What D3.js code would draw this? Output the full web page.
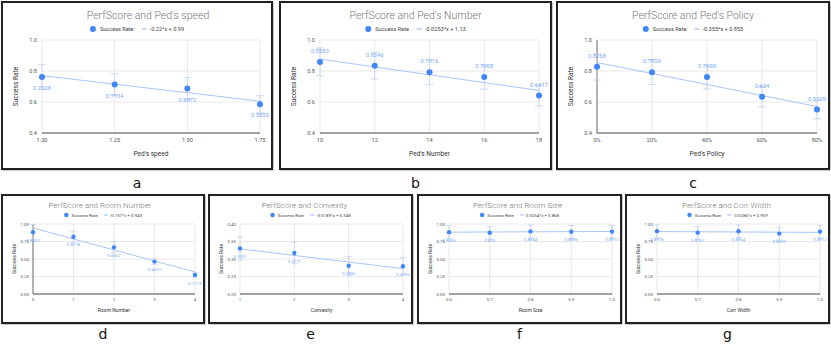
<!DOCTYPE html>
<html>
<head>
<meta charset="utf-8">
<script src="https://cdn.jsdelivr.net/npm/d3@7"></script>
<style>
  body { margin: 0; background: #fff; }
  svg { display: block; }
</style>
</head>
<body>
<div id="wrapper"></div>
<script>
// ---- data ----
const speedX = [1.00, 1.25, 1.50, 1.75];
const speedTicks = ["1.00", "1.25", "1.50", "1.75"];
const speedRate = [0.7608, 0.7124, 0.6872, 0.5855];
const speedErr = [0.08, 0.07, 0.07, 0.055];

const pedNumX = [10, 12, 14, 16, 18];
const pedNumTicks = ["10", "12", "14", "16", "18"];
const pedNumRate = [0.8583, 0.8346, 0.7916, 0.7608, 0.6417];
const pedNumErr = [0.09, 0.087, 0.08, 0.078, 0.067];

const policyX = [0, 0.2, 0.4, 0.6, 0.8];
const policyTicks = ["0%", "20%", "40%", "60%", "80%"];
const policyRate = [0.8268, 0.7926, 0.7608, 0.634, 0.5509];
const policyErr = [0.085, 0.08, 0.077, 0.066, 0.06];

const roomNumX = [0, 1, 2, 3, 4];
const roomNumTicks = ["0", "1", "2", "3", "4"];
const roomNumRate = [0.8812, 0.8178, 0.6667, 0.4631, 0.2719];
const roomNumErr = [0.11, 0.08, 0.08, 0.04, 0.03];

const convexX = [1, 2, 3, 4];
const convexTicks = ["1", "2", "3", "4"];
const convexRate = [0.3301, 0.3171, 0.2806, 0.2792];
const convexErr = [0.033, 0.031, 0.027, 0.025];

const sizeX = [0.6, 0.7, 0.8, 0.9, 1.0];
const sizeTicks = ["0.6", "0.7", "0.8", "0.9", "1.0"];
const roomSizeRate = [0.8836, 0.876, 0.8944, 0.8896, 0.8912];
const roomSizeErr = [0.09, 0.09, 0.09, 0.09, 0.09];

const corrWidthRate = [0.8976, 0.8767, 0.8964, 0.8629, 0.8912];
const corrWidthErr = [0.09, 0.09, 0.09, 0.09, 0.09];

// trendlines: [slope, intercept, legend text]
const speedTrend = [-0.22, 0.99, "-0.22*x + 0.99"];
const pedNumTrend = [-0.0253, 1.13, "-0.0253*x + 1.13"];
const policyTrend = [-0.355, 0.855, "-0.355*x + 0.855"];
const roomNumTrend = [-0.157, 0.943, "-0.157*x + 0.943"];
const convexTrend = [-0.0189, 0.348, "-0.0189*x + 0.348"];
const roomSizeTrend = [0.0254, 0.868, "0.0254*x + 0.868"];
const corrWidthTrend = [-0.0286, 0.909, "-0.0286*x + 0.909"];

const topYTicks = [0.4, 0.6, 0.8, 1.0];
const unitYTicks = [0, 0.25, 0.5, 0.75, 1.0];
const convexYTicks = [0.2, 0.25, 0.3, 0.35, 0.4];

const panels = [
  { letter: "a", title: "PerfScore and Ped's speed", xTitle: "Ped's speed", x: speedX, xTicks: speedTicks,
    y: speedRate, err: speedErr, trend: speedTrend, yTicks: topYTicks, yFmt: ".1f", labelPos: "below",
    box: [2, 2, 272, 169], small: false, titleDx: 11, xBase: false },
  { letter: "b", title: "PerfScore and Ped's Number", xTitle: "Ped's Number", x: pedNumX, xTicks: pedNumTicks,
    y: pedNumRate, err: pedNumErr, trend: pedNumTrend, yTicks: topYTicks, yFmt: ".1f", labelPos: "above",
    box: [280, 2, 551, 169], small: false, titleDx: 0, xBase: false },
  { letter: "c", title: "PerfScore and Ped's Policy", xTitle: "Ped's Policy", x: policyX, xTicks: policyTicks,
    y: policyRate, err: policyErr, trend: policyTrend, yTicks: topYTicks, yFmt: ".1f", labelPos: "above",
    box: [557, 2, 829, 169], small: false, titleDx: 0, xBase: true },
  { letter: "d", title: "PerfScore and Room Number", xTitle: "Room Number", x: roomNumX, xTicks: roomNumTicks,
    y: roomNumRate, err: roomNumErr, trend: roomNumTrend, yTicks: unitYTicks, yFmt: ".2f", labelPos: "below",
    box: [2, 195, 204, 323], small: true, titleDx: -3, xBase: true },
  { letter: "e", title: "PerfScore and Convexity", xTitle: "Convexity", x: convexX, xTicks: convexTicks,
    y: convexRate, err: convexErr, trend: convexTrend, yTicks: convexYTicks, yFmt: ".2f", labelPos: "below",
    box: [209, 195, 412, 323], small: true, titleDx: -6, xBase: false },
  { letter: "f", title: "PerfScore and Room Size", xTitle: "Room Size", x: sizeX, xTicks: sizeTicks,
    y: roomSizeRate, err: roomSizeErr, trend: roomSizeTrend, yTicks: unitYTicks, yFmt: ".2f", labelPos: "below",
    box: [418, 195, 621, 323], small: true, titleDx: -2, xBase: false },
  { letter: "g", title: "PerfScore and Corr Width", xTitle: "Corr Width", x: sizeX, xTicks: sizeTicks,
    y: corrWidthRate, err: corrWidthErr, trend: corrWidthTrend, yTicks: unitYTicks, yFmt: ".2f", labelPos: "below",
    box: [626, 195, 829, 323], small: true, titleDx: -1, xBase: false },
];

const blue = "#4285f4";
const trendColor = "#a9c5f7";
const labelColor = "#7baaf7";
const errColor = "#c3d3ef";
const font = "Roboto, 'Open Sans', sans-serif";

const svg = d3.select("#wrapper").append("svg")
  .attr("width", 831)
  .attr("height", 344);

function drawPanel(p) {
  const [x0, y0, x1, y1] = p.box;
  const s = p.small;
  const m = s ? { top: 29, right: 9, bottom: 29, left: 31 } : { top: 38, right: 12, bottom: 36, left: 40 };
  const fs = s
    ? { title: 8, legend: 4.4, tick: 4.4, axis: 5, label: 4.4, r: 2.2, cap: 3, off: 8 }
    : { title: 10.5, legend: 5.6, tick: 5.6, axis: 6.6, label: 5.8, r: 3, cap: 4, off: 11 };

  const g = svg.append("g");

  // frame
  g.append("rect")
    .attr("x", x0 + 1).attr("y", y0 + 1)
    .attr("width", x1 - x0).attr("height", y1 - y0)
    .attr("fill", "none").attr("stroke", "#bbb").attr("stroke-width", 1.5);
  g.append("rect")
    .attr("x", x0).attr("y", y0)
    .attr("width", x1 - x0).attr("height", y1 - y0)
    .attr("fill", "#fff").attr("stroke", "#222").attr("stroke-width", 2);

  const left = x0 + m.left, right = x1 - m.right;
  const top = y0 + m.top, bottom = y1 - m.bottom;

  const xScale = d3.scaleLinear()
    .domain(d3.extent(p.x))
    .range([left, right]);
  const yScale = d3.scaleLinear()
    .domain(d3.extent(p.yTicks))
    .range([bottom, top]);

  // gridlines
  g.append("g").selectAll("line.h")
    .data(p.yTicks.slice(1))
    .join("line")
    .attr("x1", left).attr("x2", right)
    .attr("y1", d => yScale(d)).attr("y2", d => yScale(d))
    .attr("stroke", "#e3e3e3").attr("stroke-width", 0.8);
  g.append("g").selectAll("line.v")
    .data(p.x)
    .join("line")
    .attr("x1", d => xScale(d)).attr("x2", d => xScale(d))
    .attr("y1", top).attr("y2", bottom)
    .attr("stroke", (d, i) => (i === 0 && p.xBase) ? "#666" : "#e3e3e3")
    .attr("stroke-width", (d, i) => (i === 0 && p.xBase) ? 1 : 0.8);
  // baseline
  g.append("line")
    .attr("x1", left).attr("x2", right)
    .attr("y1", bottom).attr("y2", bottom)
    .attr("stroke", "#444").attr("stroke-width", 1);

  // y tick labels
  const yf = d3.format(p.yFmt);
  g.append("g").selectAll("text")
    .data(p.yTicks)
    .join("text")
    .attr("x", left - (s ? 4 : 5))
    .attr("y", d => yScale(d))
    .attr("dy", "0.35em")
    .attr("text-anchor", "end")
    .style("font-family", font).style("font-size", fs.tick + "px")
    .attr("fill", "#555")
    .text(yf);

  // x tick labels
  g.append("g").selectAll("text")
    .data(p.x)
    .join("text")
    .attr("x", d => xScale(d))
    .attr("y", bottom + (s ? 6.5 : 9))
    .attr("text-anchor", "middle")
    .style("font-family", font).style("font-size", fs.tick + "px")
    .attr("fill", "#555")
    .text((d, i) => p.xTicks[i]);

  // axis titles
  g.append("text")
    .attr("x", (left + right) / 2)
    .attr("y", s ? y1 - 11 : y1 - 13)
    .attr("text-anchor", "middle")
    .style("font-family", font).style("font-size", fs.axis + "px")
    .attr("fill", "#333")
    .text(p.xTitle);
  g.append("text")
    .attr("transform", `translate(${x0 + (s ? 12 : 14)}, ${(top + bottom) / 2}) rotate(-90)`)
    .attr("text-anchor", "middle")
    .attr("dy", "0.35em")
    .style("font-family", font).style("font-size", fs.axis + "px")
    .attr("fill", "#333")
    .text("Success Rate");

  // title
  g.append("text")
    .attr("x", (x0 + x1) / 2 + p.titleDx)
    .attr("y", y0 + (s ? 13 : 17))
    .attr("text-anchor", "middle")
    .style("font-family", font).style("font-size", fs.title + "px")
    .style("font-weight", 300)
    .attr("fill", "#777")
    .text(p.title);

  // legend
  const lg = g.append("g");
  const ly = y0 + (s ? 20 : 27);
  lg.append("circle").attr("cx", 0).attr("cy", ly).attr("r", fs.r).attr("fill", blue);
  const t1 = lg.append("text")
    .attr("x", fs.r + (s ? 3 : 4)).attr("y", ly).attr("dy", "0.35em")
    .style("font-family", font).style("font-size", fs.legend + "px")
    .attr("fill", "#444").text("Success Rate");
  const t1end = fs.r + (s ? 3 : 4) + t1.node().getComputedTextLength();
  const lx = t1end + (s ? 6 : 8);
  const llen = s ? 4 : 5;
  lg.append("line")
    .attr("x1", lx).attr("x2", lx + llen).attr("y1", ly).attr("y2", ly)
    .attr("stroke", trendColor).attr("stroke-width", 1.2);
  const t2 = lg.append("text")
    .attr("x", lx + llen + (s ? 2 : 3)).attr("y", ly).attr("dy", "0.35em")
    .style("font-family", font).style("font-size", fs.legend + "px")
    .attr("fill", "#444").text(p.trend[2]);
  const lw = lx + llen + (s ? 2 : 3) + t2.node().getComputedTextLength() + fs.r;
  lg.attr("transform", `translate(${(x0 + x1) / 2 - lw / 2 + fs.r}, 0)`);

  const pts = p.x.map((xv, i) => ({ x: xv, y: p.y[i], e: p.err[i] }));

  // error bars
  const eb = g.append("g").attr("stroke", errColor).attr("stroke-width", 0.8);
  eb.selectAll("line.stem")
    .data(pts)
    .join("line")
    .attr("x1", d => xScale(d.x)).attr("x2", d => xScale(d.x))
    .attr("y1", d => yScale(d.y - d.e)).attr("y2", d => yScale(d.y + d.e));
  ["lo", "hi"].forEach(k => {
    eb.append("g").selectAll("line")
      .data(pts)
      .join("line")
      .attr("x1", d => xScale(d.x) - fs.cap).attr("x2", d => xScale(d.x) + fs.cap)
      .attr("y1", d => yScale(k === "lo" ? d.y - d.e : d.y + d.e))
      .attr("y2", d => yScale(k === "lo" ? d.y - d.e : d.y + d.e));
  });

  // trendline
  const [a, b] = p.trend;
  const xd = xScale.domain();
  g.append("line")
    .attr("x1", xScale(xd[0])).attr("x2", xScale(xd[1]))
    .attr("y1", yScale(a * xd[0] + b)).attr("y2", yScale(a * xd[1] + b))
    .attr("stroke", trendColor).attr("stroke-width", 1);

  // points
  g.append("g").selectAll("circle")
    .data(pts)
    .join("circle")
    .attr("cx", d => xScale(d.x)).attr("cy", d => yScale(d.y))
    .attr("r", fs.r)
    .attr("fill", blue);

  // data labels
  g.append("g").selectAll("text")
    .data(pts)
    .join("text")
    .attr("x", d => xScale(d.x))
    .attr("y", d => yScale(d.y) + (p.labelPos === "below" ? fs.off : -fs.off + 2))
    .attr("dy", p.labelPos === "below" ? "0.35em" : "0")
    .attr("text-anchor", "middle")
    .style("font-family", font).style("font-size", fs.label + "px")
    .attr("fill", labelColor)
    .text(d => String(d.y));

  // panel letter
  svg.append("text")
    .attr("x", (x0 + x1) / 2)
    .attr("y", s ? 339 : 188)
    .attr("text-anchor", "middle")
    .style("font-family", "'DejaVu Sans', sans-serif")
    .style("font-size", "14px")
    .attr("fill", "#111")
    .text(p.letter);
}

panels.forEach(drawPanel);
</script>
</body>
</html>
